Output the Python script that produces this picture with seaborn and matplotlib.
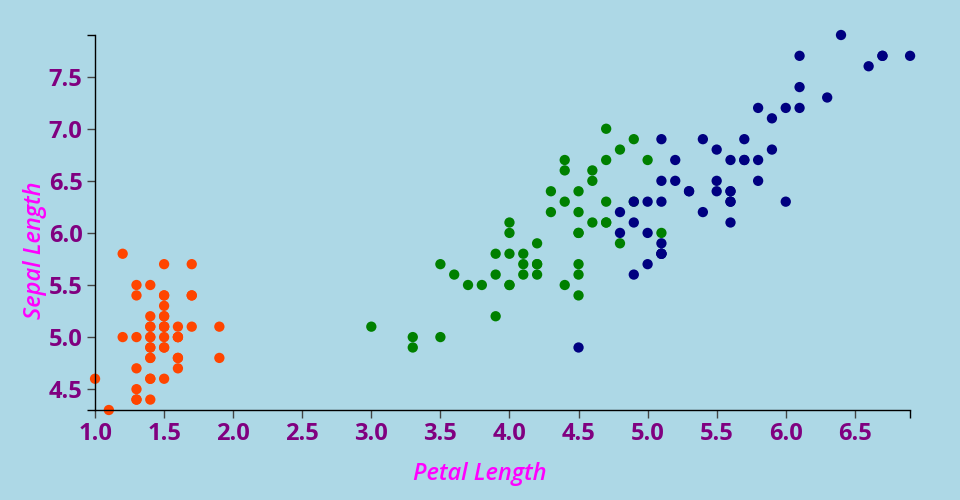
import numpy as np
import pandas as pd
import matplotlib
matplotlib.use("Agg")
import matplotlib.pyplot as plt
import seaborn as sns

# iris: petal length / sepal length per species
setosa_petal = [1.4, 1.4, 1.3, 1.5, 1.4, 1.7, 1.4, 1.5, 1.4, 1.5,
                1.5, 1.6, 1.4, 1.1, 1.2, 1.5, 1.3, 1.4, 1.7, 1.5,
                1.7, 1.5, 1.0, 1.7, 1.9, 1.6, 1.6, 1.5, 1.4, 1.6,
                1.6, 1.5, 1.5, 1.4, 1.5, 1.2, 1.3, 1.4, 1.3, 1.5,
                1.3, 1.3, 1.3, 1.6, 1.9, 1.4, 1.6, 1.4, 1.5, 1.4]
setosa_sepal = [5.1, 4.9, 4.7, 4.6, 5.0, 5.4, 4.6, 5.0, 4.4, 4.9,
                5.4, 4.8, 4.8, 4.3, 5.8, 5.7, 5.4, 5.1, 5.7, 5.1,
                5.4, 5.1, 4.6, 5.1, 4.8, 5.0, 5.0, 5.2, 5.2, 4.7,
                4.8, 5.4, 5.2, 5.5, 4.9, 5.0, 5.5, 4.9, 4.4, 5.1,
                5.0, 4.5, 4.4, 5.0, 5.1, 4.8, 5.1, 4.6, 5.3, 5.0]

versicolor_petal = [4.7, 4.5, 4.9, 4.0, 4.6, 4.5, 4.7, 3.3, 4.6, 3.9,
                    3.5, 4.2, 4.0, 4.7, 3.6, 4.4, 4.5, 4.1, 4.5, 3.9,
                    4.8, 4.0, 4.9, 4.7, 4.3, 4.4, 4.8, 5.0, 4.5, 3.5,
                    3.8, 3.7, 3.9, 5.1, 4.5, 4.5, 4.7, 4.4, 4.1, 4.0,
                    4.4, 4.6, 4.0, 3.3, 4.2, 4.2, 4.2, 4.3, 3.0, 4.1]
versicolor_sepal = [7.0, 6.4, 6.9, 5.5, 6.5, 5.7, 6.3, 4.9, 6.6, 5.2,
                    5.0, 5.9, 6.0, 6.1, 5.6, 6.7, 5.6, 5.8, 6.2, 5.6,
                    5.9, 6.1, 6.3, 6.1, 6.4, 6.6, 6.8, 6.7, 6.0, 5.7,
                    5.5, 5.5, 5.8, 6.0, 5.4, 6.0, 6.7, 6.3, 5.6, 5.5,
                    5.5, 6.1, 5.8, 5.0, 5.6, 5.7, 5.7, 6.2, 5.1, 5.7]

virginica_petal = [6.0, 5.1, 5.9, 5.6, 5.8, 6.6, 4.5, 6.3, 5.8, 6.1,
                   5.1, 5.3, 5.5, 5.0, 5.1, 5.3, 5.5, 6.7, 6.9, 5.0,
                   5.7, 4.9, 6.7, 4.9, 5.7, 6.0, 4.8, 4.9, 5.6, 5.8,
                   6.1, 6.4, 5.6, 5.1, 5.6, 6.1, 5.6, 5.5, 4.8, 5.4,
                   5.6, 5.1, 5.1, 5.9, 5.7, 5.2, 5.0, 5.2, 5.4, 5.1]
virginica_sepal = [6.3, 5.8, 7.1, 6.3, 6.5, 7.6, 4.9, 7.3, 6.7, 7.2,
                   6.5, 6.4, 6.8, 5.7, 5.8, 6.4, 6.5, 7.7, 7.7, 6.0,
                   6.9, 5.6, 7.7, 6.3, 6.7, 7.2, 6.2, 6.1, 6.4, 7.2,
                   7.4, 7.9, 6.4, 6.3, 6.1, 7.7, 6.3, 6.4, 6.0, 6.9,
                   6.7, 6.9, 5.8, 6.8, 6.7, 6.7, 6.3, 6.5, 6.2, 5.9]

species = ["setosa", "versicolor", "virginica"]
colors = {"setosa": "#FF4500", "versicolor": "#008000", "virginica": "#000080"}

x_ticks = [1.0, 1.5, 2.0, 2.5, 3.0, 3.5, 4.0, 4.5, 5.0, 5.5, 6.0, 6.5]
y_ticks = [4.5, 5.0, 5.5, 6.0, 6.5, 7.0, 7.5]

df = pd.DataFrame({
    "petal": setosa_petal + versicolor_petal + virginica_petal,
    "sepal": setosa_sepal + versicolor_sepal + virginica_sepal,
    "species": [s for s in species for _ in range(50)],
})

bg = "#ADD8E6"
sns.set_style("ticks")
plt.rcParams["font.family"] = ["Open Sans", "DejaVu Sans"]

fig = plt.figure(figsize=(9.6, 5.0), dpi=100, facecolor=bg)
ax = fig.add_axes([0.099, 0.18, 0.849, 0.75])
ax.set_facecolor(bg)

sns.scatterplot(data=df, x="petal", y="sepal", hue="species", palette=colors,
                hue_order=species, s=55, linewidth=0, legend=False, ax=ax,
                clip_on=False)

xmin, xmax = df["petal"].min(), df["petal"].max()
ymin, ymax = df["sepal"].min(), df["sepal"].max()
ax.set_xlim(xmin, xmax)
ax.set_ylim(ymin, ymax)

ax.set_xticks(x_ticks)
ax.set_yticks(y_ticks)
ax.set_xticklabels([f"{v:.1f}" for v in x_ticks])
ax.set_yticklabels([f"{v:.1f}" for v in y_ticks])
# end ticks like a d3 axis domain
ax.set_xticks([xmin, xmax], minor=True)
ax.set_yticks([ymin, ymax], minor=True)

ax.tick_params(which="major", length=6, width=1, color="#444444",
               labelsize=17, labelcolor="#800080", pad=3)
ax.tick_params(which="minor", length=6, width=1, color="black")
for lbl in ax.get_xticklabels() + ax.get_yticklabels():
    lbl.set_fontweight("bold")

sns.despine(ax=ax)
for side in ["left", "bottom"]:
    ax.spines[side].set_color("black")
    ax.spines[side].set_linewidth(1)

ax.set_xlabel("Petal Length", fontsize=17, color="#FF00FF",
              fontstyle="italic", fontweight="semibold")
ax.set_ylabel("Sepal Length", fontsize=17, color="#FF00FF",
              fontstyle="italic", fontweight="semibold")
# labels centred on the figure, not the axes
ax.xaxis.set_label_coords(0.5, 0.053, transform=fig.transFigure)
ax.yaxis.set_label_coords(0.036, 0.5, transform=fig.transFigure)
ax.xaxis.label.set_va("center")
ax.yaxis.label.set_va("center")

fig.savefig("out.png", dpi=100, facecolor=bg)
